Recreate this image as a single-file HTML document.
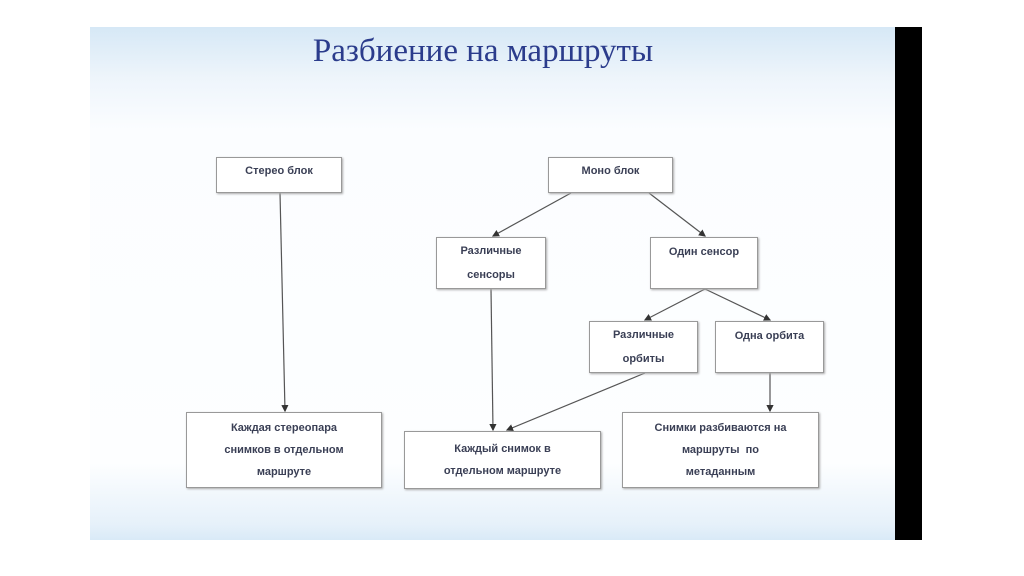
<!DOCTYPE html>
<html><head><meta charset="utf-8"><style>
body{margin:0;width:1024px;height:576px;background:#fff;position:relative;overflow:hidden;font-family:"Liberation Sans",sans-serif}
.slide{position:absolute;left:90px;top:27px;width:805px;height:513px;background:linear-gradient(180deg,#d6e8f6 0%,#eef5fb 10%,#fbfdff 20%,#fdfeff 85%,#e6f1fa 97%,#d9eaf7 100%)}
.bar{position:absolute;left:895px;top:27px;width:27px;height:513px;background:#000}
.t{position:absolute;left:90px;width:786px;top:31px;text-align:center;font-family:"Liberation Serif",serif;font-size:33px;color:#2b3c8c;line-height:40px}
.b{position:absolute;background:#fff;border:1px solid #999;box-shadow:1px 1px 2px #aaa;display:flex;align-items:center;justify-content:center;text-align:center;font-size:11px;font-weight:bold;color:#3a3f55;line-height:21px}
</style></head><body>
<div class="slide"></div><div class="bar"></div>
<div class="t">Разбиение на маршруты</div>
<svg width="1024" height="576" style="position:absolute;left:0;top:0">
<defs><marker id="a" markerWidth="6" markerHeight="6" refX="5" refY="3" orient="auto"><path d="M0,0L6,3L0,6z" fill="#333"/></marker></defs>
<g stroke="#555" stroke-width="1.2" fill="none" marker-end="url(#a)">
<line x1="280" y1="193" x2="285" y2="411"/>
<line x1="571" y1="193" x2="493" y2="236"/>
<line x1="649" y1="193" x2="705" y2="236"/>
<line x1="491" y1="289" x2="493" y2="430"/>
<line x1="705" y1="289" x2="645" y2="320"/>
<line x1="705" y1="289" x2="770" y2="320"/>
<line x1="645" y1="373" x2="507" y2="430"/>
<line x1="770" y1="373" x2="770" y2="411"/>
</g></svg>
<div class="b" style="left:216px;top:157px;width:126px;height:36px;align-items:flex-start;padding-top:3px;box-sizing:border-box">Стерео блок</div>
<div class="b" style="left:548px;top:157px;width:125px;height:36px;align-items:flex-start;padding-top:3px;box-sizing:border-box">Моно блок</div>
<div class="b" style="left:436px;top:237px;width:110px;height:52px;box-sizing:border-box;line-height:24px">Различные<br>сенсоры</div>
<div class="b" style="left:650px;top:237px;width:108px;height:52px;box-sizing:border-box;align-items:flex-start;padding-top:4px">Один сенсор</div>
<div class="b" style="left:589px;top:321px;width:109px;height:52px;box-sizing:border-box;line-height:24px">Различные<br>орбиты</div>
<div class="b" style="left:715px;top:321px;width:109px;height:52px;box-sizing:border-box;align-items:flex-start;padding-top:4px">Одна орбита</div>
<div class="b" style="left:186px;top:412px;width:196px;height:76px;box-sizing:border-box;line-height:22px">Каждая стереопара<br>снимков в отдельном<br>маршруте</div>
<div class="b" style="left:404px;top:431px;width:197px;height:58px;box-sizing:border-box;line-height:22px">Каждый снимок в<br>отдельном маршруте</div>
<div class="b" style="left:622px;top:412px;width:197px;height:76px;box-sizing:border-box;line-height:22px">Снимки разбиваются на<br>маршруты&nbsp; по<br>метаданным</div>
</body></html>
